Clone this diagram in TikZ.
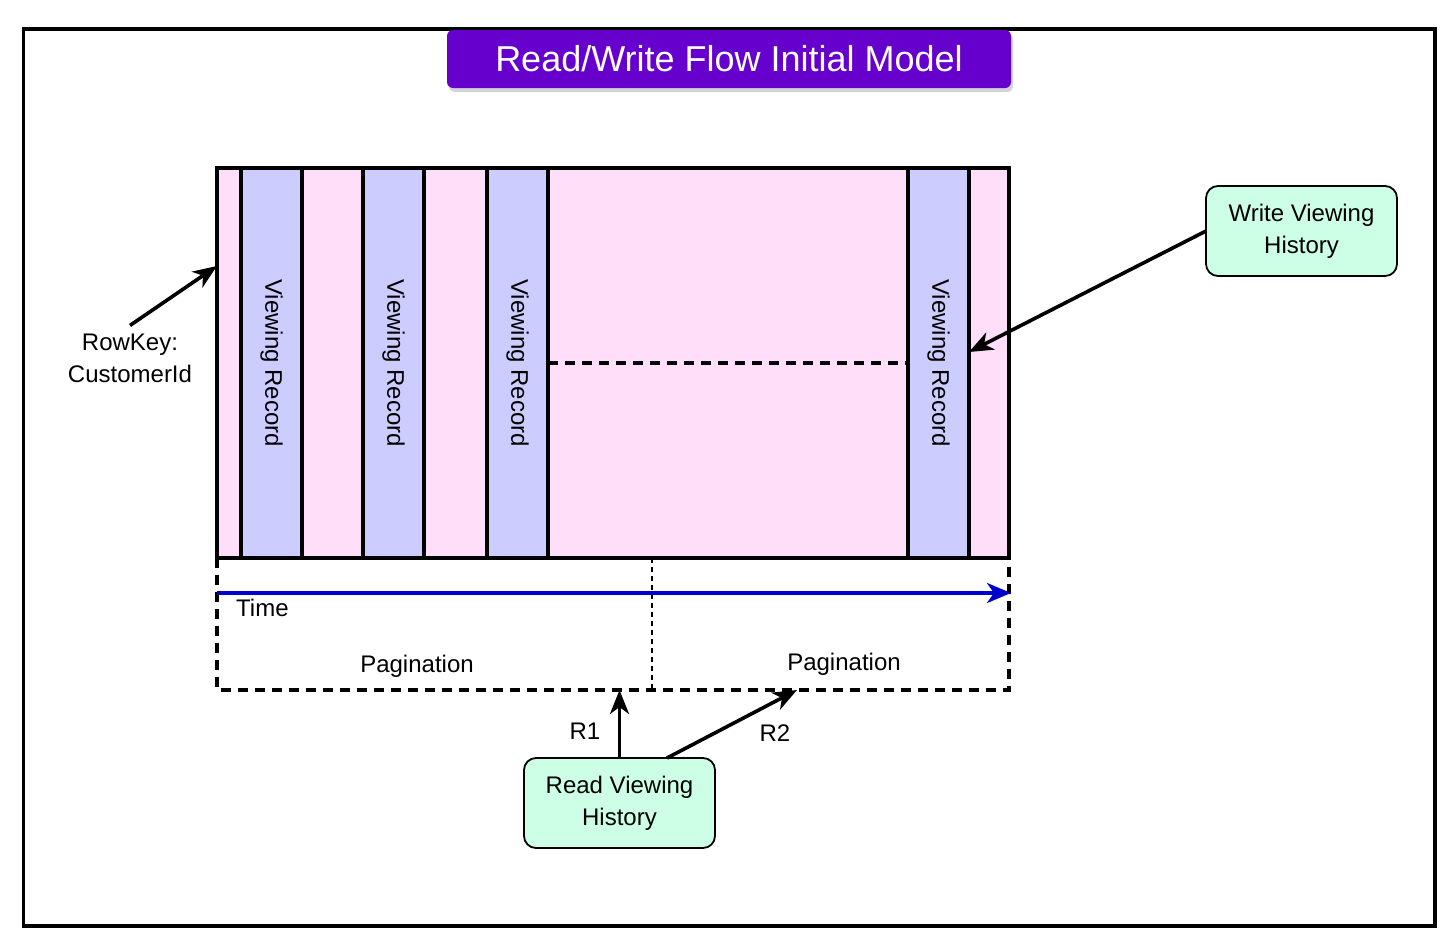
\documentclass[tikz,border=0pt]{standalone}
\usepackage{fontspec}
\setmainfont{Liberation Sans}
\usetikzlibrary{arrows.meta,shadows,calc}
\definecolor{pinkbg}{HTML}{FFDEFA}
\definecolor{bluestripe}{HTML}{CCCCFF}
\definecolor{greenbox}{HTML}{CCFFE6}
\definecolor{titlepurple}{HTML}{6600CC}
\definecolor{timeblue}{HTML}{0000CC}
\begin{document}
\begin{tikzpicture}[x=1pt,y=-1pt,
  txt/.style={font=\fontsize{24}{32}\selectfont, inner sep=0pt, align=center},
  stripe/.style={draw, line width=3.2pt, fill=bluestripe, minimum width=61pt, minimum height=390pt, anchor=north west, inner sep=0pt, outer sep=0pt},
  vtext/.style={txt, rotate=-90},
  actbox/.style={draw, line width=1.8pt, fill=greenbox, rounded corners=12pt, minimum width=191pt, minimum height=90pt, inner sep=0pt, outer sep=0pt, align=center, font=\fontsize{24}{32}\selectfont},
  arr/.style={line width=3.6pt, -{Stealth[length=24pt,width=19pt,inset=7pt]}},
  bigdash/.style={line width=3.2pt, dash pattern=on 10pt off 7pt}
]
\useasboundingbox (0,0) rectangle (1456,948);
% outer frame
\draw[line width=3.5pt] (23.5,29) rectangle (1435,926);
% title
\node[fill=titlepurple, rounded corners=6pt, minimum width=564pt, minimum height=58pt, inner sep=0pt,
      drop shadow={opacity=0.35, shadow xshift=2pt, shadow yshift=-4pt},
      text=white, font=\fontsize{36}{40}\selectfont] (title) at (729,59) {Read/Write Flow Initial Model};
% main record table
\node[fill=pinkbg, minimum width=792pt, minimum height=390pt, inner sep=0pt, outer sep=0pt, anchor=north west] (main) at (217,168) {};
\node[stripe] (s1) at (241,168) {};
\node[stripe] (s2) at (363,168) {};
\node[stripe] (s3) at (487,168) {};
\node[stripe] (s4) at (908,168) {};
\node[vtext] at (s1.center) {Viewing Record};
\node[vtext] at (s2.center) {Viewing Record};
\node[vtext] at (s3.center) {Viewing Record};
\node[vtext] at (s4.center) {Viewing Record};
\draw[line width=3.4pt] (main.north west) rectangle (main.south east);
\draw[bigdash] (s3.east) -- (s4.west);
% pagination area
\node[minimum width=792pt, minimum height=132pt, inner sep=0pt, outer sep=0pt, anchor=north west] (pag) at (217,558) {};
\draw[bigdash] (main.south west) -- (pag.south west) -- (pag.south east) -- (main.south east);
\draw[line width=1.6pt, dash pattern=on 5pt off 4pt] (652,558) coordinate (pt) -- (pt |- pag.south);
\coordinate (tstart) at (217,593);
\coordinate (tend) at (1011,593);
\draw[line width=3.6pt, timeblue, -{Stealth[length=24pt,width=20pt,inset=7pt]}] (tstart) -- (tend);
\node[txt, anchor=west] (time) at (236,608) {Time};
\node[txt] (pag1) at (417,666) {Pagination};
\node[txt] (pag2) at (844,664) {Pagination};
% write box
\node[actbox] (write) at (1301.5,231) {Write Viewing\\History};
\draw[arr] (write.west) -- ([yshift=11pt]s4.east);
% rowkey
\node[txt] (rk) at (130,358) {RowKey:\\CustomerId};
\draw[arr] ([yshift=8pt]rk.north) -- ([yshift=-98pt]main.north west);
% read box
\node[actbox] (read) at (619.5,803) {Read Viewing\\History};
\draw[arr] (read.north) -- (read.north |- pag.south);
\draw[arr] ([xshift=47.5pt]read.north) -- ([xshift=184pt]pag.south);
\node[txt] (r1) at (585,731) {R1};
\node[txt] (r2) at (775,733) {R2};
\end{tikzpicture}
\end{document}
